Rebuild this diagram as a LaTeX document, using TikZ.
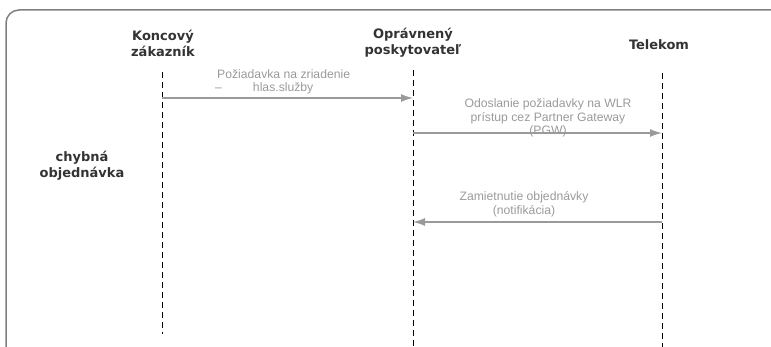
\documentclass[tikz,border=0pt]{standalone}
\usepackage{fontspec}
\setmainfont{Liberation Sans}
\newfontfamily\headfont{DejaVu Sans}
\usetikzlibrary{arrows.meta}
\definecolor{headc}{HTML}{333333}
\definecolor{msgc}{HTML}{9A9A9A}
\definecolor{framec}{HTML}{7F7F7F}
\tikzset{
  head/.style={font=\headfont\bfseries\fontsize{13}{16}\selectfont, text=headc, align=center, inner sep=0pt},
  lifeline/.style={draw=black, line width=0.9pt, dash pattern=on 6pt off 4pt},
  msg/.style={draw=msgc, line width=1.3pt, -{Latex[length=12pt,width=8pt]}},
  msglabel/.style={font=\fontsize{12.2}{13.6}\selectfont, text=msgc, align=center, inner sep=0pt},
}
\begin{document}
\begin{tikzpicture}[x=1pt,y=-1pt]
\useasboundingbox (0,0) rectangle (771,347);
% frame
\draw[draw=framec, line width=1.5pt, rounded corners=13pt] (6,352) -- (6,10) -- (778,10);
% headers
\node[head] (kz) at (163,43) {Koncový\\zákazník};
\node[head] (op) at (413,43) {Oprávnený\\poskytovateľ};
\node[head] (tk) at (659,45) {Telekom};
\node[head] (ch) at (82,166) {chybná\\objednávka};
% lifelines
\coordinate (kzt) at (162,72);
\coordinate (kzb) at (162,334);
\coordinate (opt) at (413,70);
\coordinate (opb) at (413,350);
\coordinate (tkt) at (662,73);
\coordinate (tkb) at (662,350);
\draw[lifeline] (kzt) -- (kzb);
\draw[lifeline] (opt) -- (opb);
\draw[lifeline] (tkt) -- (tkb);
% message points
\coordinate (k1) at (162,98);
\coordinate (o1) at (413,98);
\coordinate (o2) at (413,133);
\coordinate (t2) at (662,133);
\coordinate (t3) at (662,222);
\coordinate (o3) at (413,222);
\draw[msg] (k1) -- (o1);
\draw[msg] (o2) -- (t2);
\draw[msg] (t3) -- (o3);
% labels
\node[msglabel, align=left, anchor=north west] (l1) at (217,69) {Požiadavka na zriadenie\\\hspace*{-2pt}–\hspace{31pt}hlas.služby};
\node[msglabel] (l2) at (548,118) {Odoslanie požiadavky na WLR\\prístup cez Partner Gateway\\(PGW)};
\node[msglabel] (l3) at (524,204) {Zamietnutie objednávky\\(notifikácia)};
\end{tikzpicture}
\end{document}
